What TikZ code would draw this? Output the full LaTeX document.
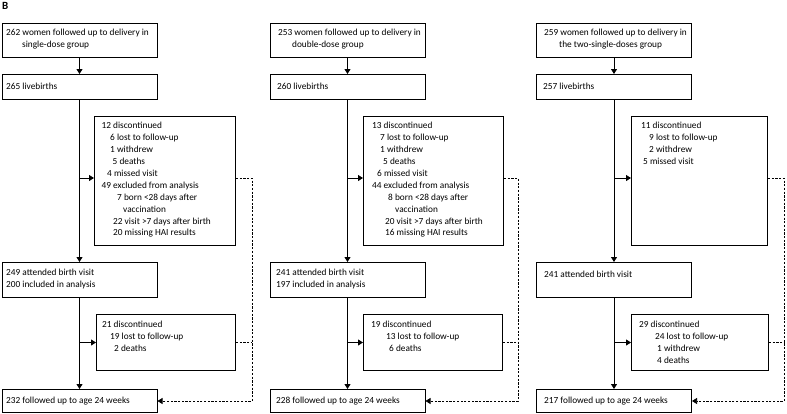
\documentclass[tikz,border=0pt]{standalone}
\usepackage{fontspec}
\setmainfont{Carlito}
\usetikzlibrary{arrows.meta}
\tikzset{
  box/.style={draw, line width=1pt, rectangle, inner sep=0pt, anchor=north west},
  txt/.style={anchor=north west, inner sep=0pt, align=left, font=\fontsize{9.3}{11.9}\selectfont, execute at begin node={\rule{0pt}{8.3pt}}},
  conn/.style={line width=0.9pt, -{Triangle[length=5pt,width=6pt]}},
  dsh/.style={line width=0.7pt, dash pattern=on 2.2pt off 1.5pt},
  dsharr/.style={dsh, -{Triangle[length=5pt,width=6pt]}},
}
\begin{document}
\begin{tikzpicture}[x=1pt,y=-1pt]
\useasboundingbox (0,0) rectangle (787,413);
\node[anchor=north west, inner sep=0pt, font=\bfseries\fontsize{11}{12}\selectfont] (lbl) at (2,2.5) {B};

% ---------- left column ----------
\node[box, minimum width=155pt, minimum height=34pt] (L1) at (1.5,23) {};
\node[box, minimum width=155pt, minimum height=25pt] (L2) at (1.5,74) {};
\node[box, minimum width=141pt, minimum height=129pt] (L3) at (94,116) {};
\node[box, minimum width=155pt, minimum height=35pt] (L4) at (1.5,262) {};
\node[box, minimum width=139pt, minimum height=56pt] (L5) at (96,314) {};
\node[box, minimum width=155pt, minimum height=23pt] (L6) at (1.5,389) {};

\node[txt] (L1t) at (6,29.2) {262 women followed up to delivery in\\ \hspace*{16pt}single-dose group};
\node[txt] (L2t) at (6,81.2) {265 livebirths};
\node[txt] (L3t) at (101.5,122.2) {12 discontinued\\
 \hspace*{8.5pt}6 lost to follow-up\\
 \hspace*{8.5pt}1 withdrew\\
 \hspace*{11pt}5 deaths\\
 \hspace*{5.5pt}4 missed visit\\
 49 excluded from analysis\\
 \hspace*{15.5pt}7 born <28 days after\\
 \hspace*{21.5pt}vaccination\\
 \hspace*{11.5pt}22 visit >7 days after birth\\
 \hspace*{11.5pt}20 missing HAI results};
\node[txt] (L4t) at (6,269.2) {249 attended birth visit\\200 included in analysis};
\node[txt] (L5t) at (102,321.2) {21 discontinued\\ \hspace*{8pt}19 lost to follow-up\\ \hspace*{12pt}2 deaths};
\node[txt] (L6t) at (6,395.2) {232 followed up to age 24 weeks};

% ---------- middle column ----------
\node[box, minimum width=155pt, minimum height=34pt] (M1) at (269.5,23) {};
\node[box, minimum width=155pt, minimum height=25pt] (M2) at (269.5,74) {};
\node[box, minimum width=140pt, minimum height=129pt] (M3) at (363,116) {};
\node[box, minimum width=155pt, minimum height=35pt] (M4) at (269.5,262) {};
\node[box, minimum width=139pt, minimum height=56pt] (M5) at (363,314) {};
\node[box, minimum width=155pt, minimum height=23pt] (M6) at (269.5,389) {};

\node[txt] (M1t) at (278,29.2) {253 women followed up to delivery in\\ \hspace*{14pt}double-dose group};
\node[txt] (M2t) at (277,81.2) {260 livebirths};
\node[txt] (M3t) at (372,122.2) {13 discontinued\\
 \hspace*{8pt}7 lost to follow-up\\
 \hspace*{8pt}1 withdrew\\
 \hspace*{11pt}5 deaths\\
 \hspace*{5pt}6 missed visit\\
 44 excluded from analysis\\
 \hspace*{16pt}8 born <28 days after\\
 \hspace*{23pt}vaccination\\
 \hspace*{13pt}20 visit >7 days after birth\\
 \hspace*{13pt}16 missing HAI results};
\node[txt] (M4t) at (276,269.2) {241 attended birth visit\\197 included in analysis};
\node[txt] (M5t) at (371,321.2) {19 discontinued\\ \hspace*{15pt}13 lost to follow-up\\ \hspace*{18pt}6 deaths};
\node[txt] (M6t) at (276,395.2) {228 followed up to age 24 weeks};

% ---------- right column ----------
\node[box, minimum width=155pt, minimum height=34pt] (R1) at (536,23) {};
\node[box, minimum width=155pt, minimum height=25pt] (R2) at (536,74) {};
\node[box, minimum width=136pt, minimum height=129pt] (R3) at (631,116) {};
\node[box, minimum width=155pt, minimum height=35pt] (R4) at (536,262) {};
\node[box, minimum width=137pt, minimum height=56pt] (R5) at (631,314) {};
\node[box, minimum width=155pt, minimum height=23pt] (R6) at (536,389) {};

\node[txt] (R1t) at (544,29.2) {259 women followed up to delivery in\\ \hspace*{15pt}the two-single-doses group};
\node[txt] (R2t) at (543,81.2) {257 livebirths};
\node[txt] (R3t) at (641,122.2) {11 discontinued\\
 \hspace*{8pt}9 lost to follow-up\\
 \hspace*{8pt}2 withdrew\\
 \hspace*{2pt}5 missed visit};
\node[txt] (R4t) at (544,269.2) {241 attended birth visit};
\node[txt] (R5t) at (639,321.2) {29 discontinued\\ \hspace*{16pt}24 lost to follow-up\\ \hspace*{18pt}1 withdrew\\ \hspace*{18pt}4 deaths};
\node[txt] (R6t) at (544,395.2) {217 followed up to age 24 weeks};

% ---------- helper coordinates ----------
\coordinate (ya) at (0,178);
\coordinate (kL) at (252,0);
\coordinate (kM) at (518,0);
\coordinate (kR) at (784,0);

% ---------- connectors ----------
\foreach \c/\k in {L/kL, M/kM, R/kR}{
  \draw[conn] (\c1.south) -- (\c2.north);
  \draw[conn] (\c2.south) -- (\c4.north);
  \draw[conn] (\c4.south) -- (\c6.north);
  \draw[conn] (\c2.south |- ya) -- (\c3.west |- ya);
  \draw[conn] (\c4.south |- \c5.west) -- (\c5.west);
  \draw[dsharr] (\c3.east |- ya) -| (\k |- \c6.east) -- (\c6.east);
  \draw[dsh] (\c5.east) -- (\c5.east -| \k);
}
\end{tikzpicture}
\end{document}
